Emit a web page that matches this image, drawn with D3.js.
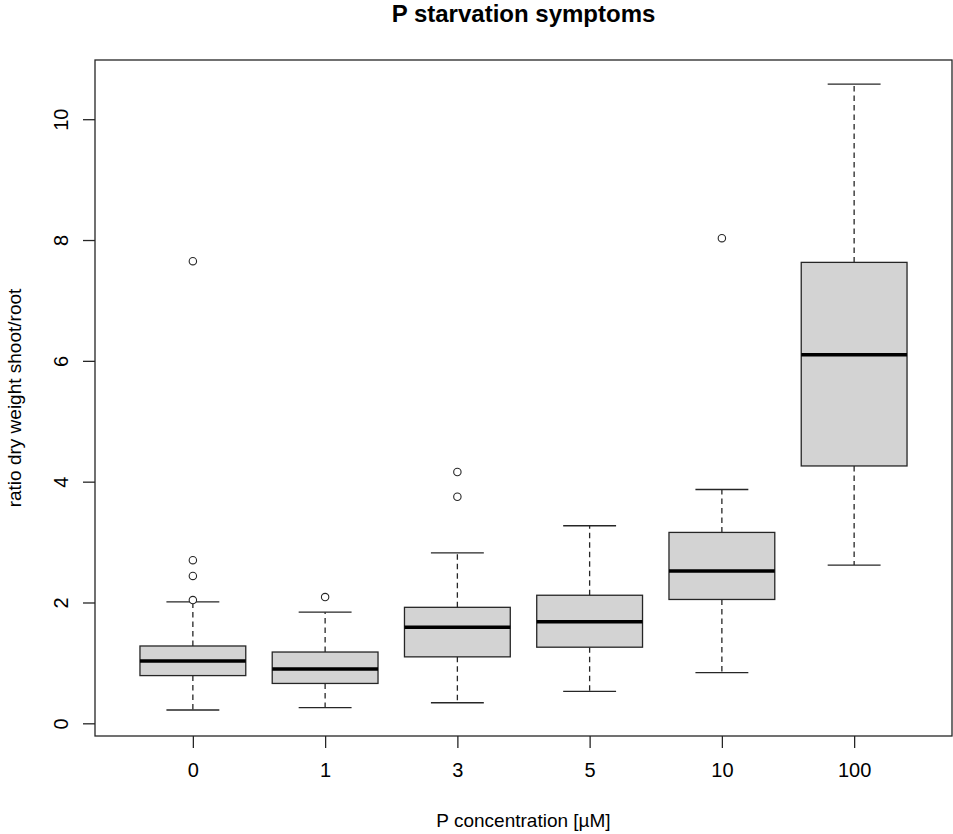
<!DOCTYPE html>
<html>
<head>
<meta charset="utf-8">
<script src="https://cdn.jsdelivr.net/npm/d3@7"></script>
<style>
  html, body { margin: 0; padding: 0; background: #fff; }
  svg { display: block; font-family: "Liberation Sans", Arial, sans-serif; }
</style>
</head>
<body>
<div id="chart"></div>
<script>
// boxplot stats (R-style boxplot)
const groups = ["0", "1", "3", "5", "10", "100"];
const lowerWhisker = [0.22, 0.26, 0.34, 0.53, 0.84, 2.62];
const q1 = [0.79, 0.66, 1.10, 1.26, 2.05, 4.26];
const median = [1.03, 0.90, 1.59, 1.68, 2.52, 6.10];
const q3 = [1.28, 1.18, 1.92, 2.12, 3.16, 7.63];
const upperWhisker = [2.01, 1.84, 2.82, 3.27, 3.87, 10.58];
const outliers = [[2.04, 2.44, 2.70, 7.65], [2.09], [3.75, 4.16], [], [8.03], []];
const yTicks = [0, 2, 4, 6, 8, 10];

const W = 953, H = 834;
const margin = { top: 60, right: 1, bottom: 98, left: 95 };

const svg = d3.select("#chart").append("svg").attr("width", W).attr("height", H);

const x = d3.scaleLinear().domain([0.26, groups.length + 0.74]).range([margin.left, W - margin.right]);
const y = d3.scaleLinear().domain([-0.21, 10.98]).range([H - margin.bottom, margin.top]);

const ink = "#262626";
const data = groups.map((g, i) => ({
  g, i: i + 1, lo: lowerWhisker[i], q1: q1[i], med: median[i], q3: q3[i], hi: upperWhisker[i], out: outliers[i]
}));

const g = svg.append("g");
const bw = 0.4, cw = 0.2;

const box = g.selectAll("g.box").data(data).join("g").attr("class", "box");

// dashed whiskers
box.append("line").attr("x1", (d) => x(d.i)).attr("x2", (d) => x(d.i))
  .attr("y1", (d) => y(d.q3)).attr("y2", (d) => y(d.hi))
  .attr("stroke", ink).attr("stroke-width", 1.3).attr("stroke-dasharray", "5.5,4");
box.append("line").attr("x1", (d) => x(d.i)).attr("x2", (d) => x(d.i))
  .attr("y1", (d) => y(d.q1)).attr("y2", (d) => y(d.lo))
  .attr("stroke", ink).attr("stroke-width", 1.3).attr("stroke-dasharray", "5.5,4");
// caps
for (const k of ["hi", "lo"]) {
  box.append("line").attr("x1", (d) => x(d.i - cw)).attr("x2", (d) => x(d.i + cw))
    .attr("y1", (d) => y(d[k])).attr("y2", (d) => y(d[k]))
    .attr("stroke", ink).attr("stroke-width", 1.3);
}
// box
box.append("rect").attr("x", (d) => x(d.i - bw)).attr("width", (d) => x(d.i + bw) - x(d.i - bw))
  .attr("y", (d) => y(d.q3)).attr("height", (d) => y(d.q1) - y(d.q3))
  .attr("fill", "#d3d3d3").attr("stroke", ink).attr("stroke-width", 1.3);
// median
box.append("line").attr("x1", (d) => x(d.i - bw)).attr("x2", (d) => x(d.i + bw))
  .attr("y1", (d) => y(d.med)).attr("y2", (d) => y(d.med))
  .attr("stroke", "#000").attr("stroke-width", 3.5);
// outliers
box.selectAll("circle").data((d) => d.out.map((v) => ({ i: d.i, v }))).join("circle")
  .attr("cx", (d) => x(d.i)).attr("cy", (d) => y(d.v)).attr("r", 3.7)
  .attr("fill", "#fff").attr("stroke", ink).attr("stroke-width", 1.1);

// frame
svg.append("rect").attr("x", margin.left).attr("y", margin.top)
  .attr("width", W - margin.right - margin.left).attr("height", H - margin.bottom - margin.top)
  .attr("fill", "none").attr("stroke", ink).attr("stroke-width", 1.3);

// axes
const xAxis = d3.axisBottom(x).tickValues(data.map((d) => d.i)).tickFormat((d, i) => groups[i])
  .tickSizeOuter(0).tickSize(12).tickPadding(15);
const gx = svg.append("g").attr("transform", `translate(0,${H - margin.bottom})`).call(xAxis);
gx.select(".domain").remove();
gx.selectAll("line").attr("stroke", ink).attr("stroke-width", 1.3);
gx.selectAll("text").attr("font-size", 20).attr("fill", "#000")
  .attr("font-family", "Liberation Sans, Arial, sans-serif");

const yAxis = d3.axisLeft(y).tickValues(yTicks).tickSizeOuter(0).tickSize(12).tickPadding(0).tickFormat(d3.format("d"));
const gy = svg.append("g").attr("transform", `translate(${margin.left},0)`).call(yAxis);
gy.select(".domain").remove();
gy.selectAll("line").attr("stroke", ink).attr("stroke-width", 1.3);
gy.selectAll("text").attr("font-size", 20).attr("fill", "#000")
  .attr("font-family", "Liberation Sans, Arial, sans-serif")
  .attr("x", null).attr("dy", null)
  .attr("text-anchor", "middle")
  .attr("transform", "translate(-27,0) rotate(-90)");

// titles
svg.append("text").attr("x", (margin.left + W - margin.right) / 2).attr("y", 22)
  .attr("text-anchor", "middle").attr("font-size", 24).attr("font-weight", "bold").text("P starvation symptoms");
svg.append("text").attr("x", (margin.left + W - margin.right) / 2).attr("y", 827)
  .attr("text-anchor", "middle").attr("font-size", 19).text("P concentration [µM]");
svg.append("text").attr("transform", `translate(21,${(margin.top + H - margin.bottom) / 2}) rotate(-90)`)
  .attr("text-anchor", "middle").attr("font-size", 19).text("ratio dry weight shoot/root");
</script>
</body>
</html>
